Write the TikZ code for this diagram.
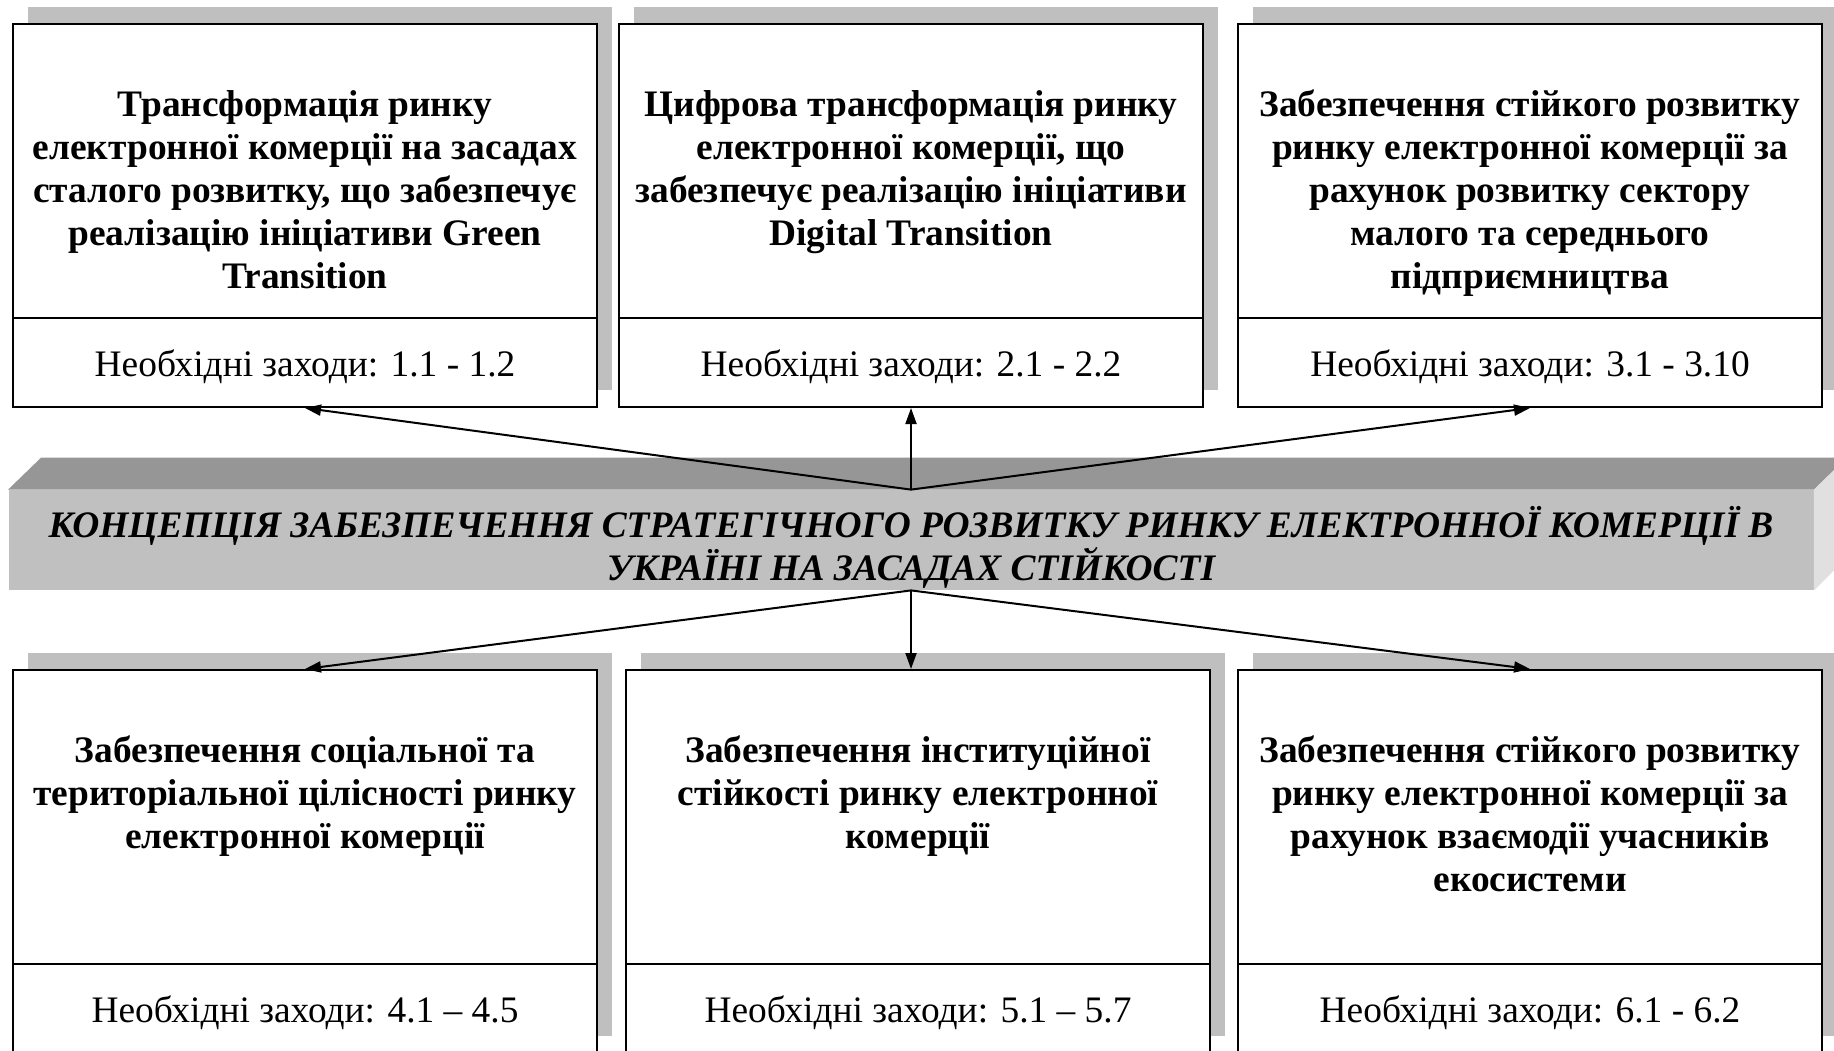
\documentclass[tikz,border=0pt]{standalone}
\usepackage{fontspec}
\setmainfont{Liberation Serif}
\usetikzlibrary{arrows.meta}
\definecolor{shadowgray}{HTML}{BFBFBF}
\definecolor{bandfront}{HTML}{C0C0C0}
\definecolor{bandtop}{HTML}{969696}
\definecolor{bandside}{HTML}{E0E0E0}
% heading text of a box: top aligned, first baseline at a fixed depth
\newcommand\boxtitle[1]{\parbox[c][147pt][t]{288pt}{\centering\rule{0pt}{46pt}#1}}
\begin{document}
\begin{tikzpicture}[x=0.5pt,y=-0.5pt,
  headbox/.style={draw, line width=1pt, fill=white, anchor=north west,
    minimum width=292pt, minimum height=147pt, inner sep=0pt,
    font=\fontsize{18.7}{21.5}\selectfont\bfseries},
  stepsbox/.style={draw, line width=1pt, fill=white, anchor=north west,
    minimum width=292pt, minimum height=44.5pt, inner sep=0pt,
    text height=16pt, text depth=2.4pt,
    font=\fontsize{18.7}{21.5}\selectfont},
  castshadow/.style={fill=shadowgray},
  bandbox/.style={fill=bandfront, minimum width=902.5pt, minimum height=50pt,
    inner sep=0pt,
    font=\fontsize{18.7}{21.5}\selectfont\bfseries\itshape},
  link/.style={line width=1pt, -{Triangle[length=8pt,width=5.5pt]}},
]
\useasboundingbox (0,0) rectangle (1834,1050);

% shadows behind the boxes
\fill[castshadow] (28,7) rectangle (612,390);
\fill[castshadow] (634,7) rectangle (1218,390);
\fill[castshadow] (1253,7) rectangle (1837,390);
\fill[castshadow] (28,653) rectangle (612,1036);
\fill[castshadow] (641,653) rectangle (1225,1036);
\fill[castshadow] (1253,653) rectangle (1837,1036);

% upper row
\node[headbox] (h1) at (12,23) {\boxtitle{Трансформація ринку\\ електронної комерції на засадах\\ сталого розвитку, що забезпечує\\ реалізацію ініціативи Green\\ Transition}};
\node[stepsbox] (m1) at (12,317) {Необхідні заходи: 1.1 - 1.2};
\node[headbox] (h2) at (618,23) {\boxtitle{Цифрова трансформація ринку\\ електронної комерції, що\\ забезпечує реалізацію ініціативи\\ Digital Transition}};
\node[stepsbox] (m2) at (618,317) {Необхідні заходи: 2.1 - 2.2};
\node[headbox] (h3) at (1237,23) {\boxtitle{Забезпечення стійкого розвитку\\ ринку електронної комерції за\\ рахунок розвитку сектору\\ малого та середнього\\ підприємництва}};
\node[stepsbox] (m3) at (1237,317) {Необхідні заходи: 3.1 - 3.10};

% central concept band with its top and side faces
\node[bandbox] (band) at (911,540) {\raisebox{-3.5pt}[\height][\depth]{\parbox{900pt}{\centering КОНЦЕПЦІЯ ЗАБЕЗПЕЧЕННЯ СТРАТЕГІЧНОГО РОЗВИТКУ РИНКУ ЕЛЕКТРОННОЇ КОМЕРЦІЇ В\\ УКРАЇНІ НА ЗАСАДАХ СТІЙКОСТІ}}};
\fill[bandtop] (band.north west) -- ++(33,-32) -- ([shift={(33,-32)}]band.north east) -- (band.north east) -- cycle;
\fill[bandside] (band.north east) -- ++(33,-32) -- ++(0,100) -- (band.south east) -- cycle;

% lower row
\node[headbox] (h4) at (12,669) {\boxtitle{Забезпечення соціальної та\\ територіальної цілісності ринку\\ електронної комерції}};
\node[stepsbox] (m4) at (12,963) {Необхідні заходи: 4.1 – 4.5};
\node[headbox] (h5) at (625,669) {\boxtitle{Забезпечення інституційної\\ стійкості ринку електронної\\ комерції}};
\node[stepsbox] (m5) at (625,963) {Необхідні заходи: 5.1 – 5.7};
\node[headbox] (h6) at (1237,669) {\boxtitle{Забезпечення стійкого розвитку\\ ринку електронної комерції за\\ рахунок взаємодії учасників\\ екосистеми}};
\node[stepsbox] (m6) at (1237,963) {Необхідні заходи: 6.1 - 6.2};

% connectors
\draw[link] (band.north) -- (m1.south);
\draw[link] (band.north) -- (band.north |- m2.south);
\draw[link] (band.north) -- (m3.south);
\draw[link] (band.south) -- (h4.north);
\draw[link] (band.south) -- (band.south |- h5.north);
\draw[link] (band.south) -- (h6.north);
\end{tikzpicture}
\end{document}
